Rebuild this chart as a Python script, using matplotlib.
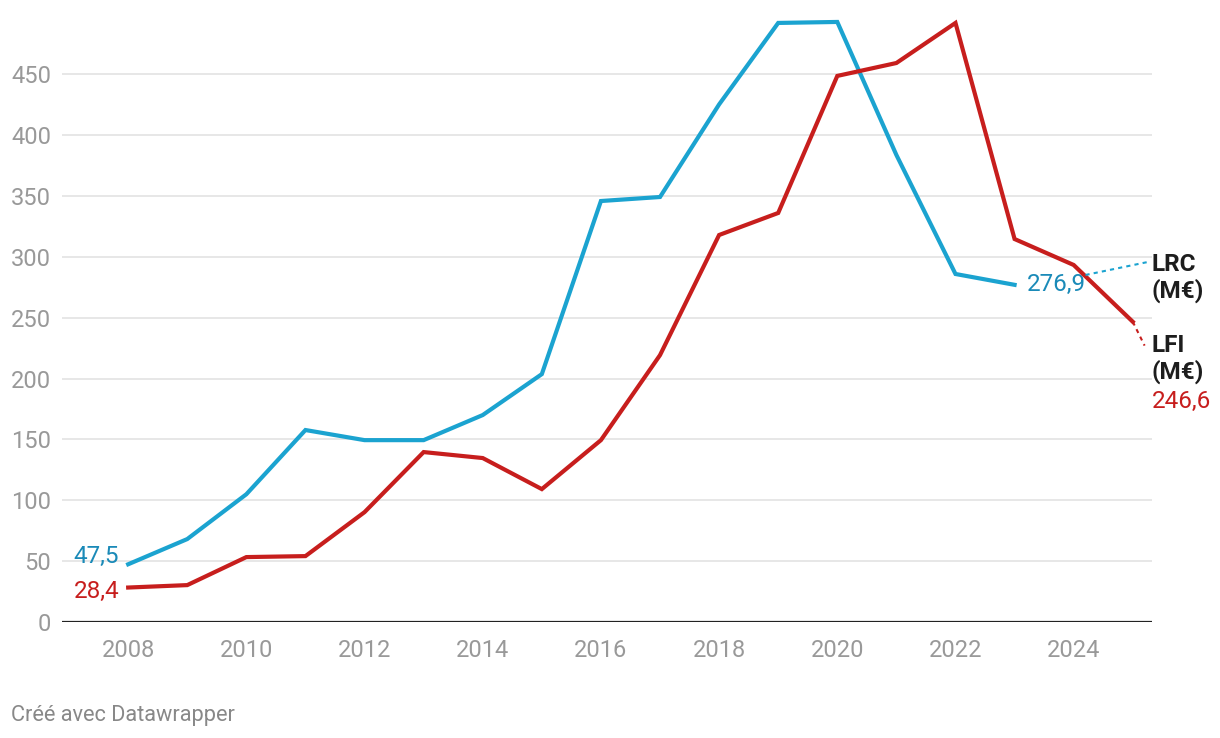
import matplotlib
matplotlib.use("Agg")
import matplotlib.pyplot as plt

years_lrc = list(range(2008, 2024))
lrc = [47.5, 68.2, 105, 157.7, 149.4, 149.4, 170, 203.6, 345.7, 349, 425, 491.9, 492.7, 383.5, 285.8, 276.9]
years_lfi = list(range(2008, 2026))
lfi = [28.4, 30.4, 53.4, 54.2, 90.3, 139.6, 134.7, 109.2, 149.4, 219.2, 317.8, 335.9, 448.4, 459, 491.9, 314.5, 293.2, 246.6]
yticks = [0, 50, 100, 150, 200, 250, 300, 350, 400, 450]
xticks = [2008, 2010, 2012, 2014, 2016, 2018, 2020, 2022, 2024]

BLUE = "#1ba3d0"
BLUE_T = "#1a8ab8"
RED = "#c71e1d"

plt.rcParams['font.family'] = ['Roboto', 'DejaVu Sans']
fig = plt.figure(figsize=(12.2, 7.38), dpi=100)
ax = fig.add_axes([0.051, 0.157, 0.893, 0.822])
ax.set_xlim(2006.884, 2025.32)
ax.set_ylim(0, 498)

for y in yticks[1:]:
    ax.axhline(y, color="#e0e0e0", lw=1.1, zorder=0)
ax.axhline(0, color="#222222", lw=1.6, zorder=3)

ax.plot(years_lrc, lrc, color=BLUE, lw=3, solid_joinstyle='miter', zorder=4)
ax.plot(years_lfi, lfi, color=RED, lw=3, solid_joinstyle='miter', zorder=4)

# connectors
ax.plot([2024.2, 2025.25], [285, 295.6], color=BLUE, lw=1.5, ls=(0, (2, 2)), zorder=4)
ax.plot([2025.0, 2025.2], [246.6, 227], color=RED, lw=1.5, ls=(0, (2, 2)), zorder=4)

ax.set_yticks(yticks)
ax.set_xticks(xticks)
ax.tick_params(length=0, labelsize=17, labelcolor="#999999")
ax.tick_params(axis='y', pad=8)
ax.tick_params(axis='x', pad=12)
for s in ax.spines.values():
    s.set_visible(False)
ax.set_yticklabels([str(v) for v in yticks], ha='right')

# value labels
ax.text(2007.85, 47.5 + 6, "47,5", color=BLUE_T, fontsize=17.5, ha='right', va='center')
ax.text(2007.85, 28.4 - 3, "28,4", color=RED, fontsize=17.5, ha='right', va='center')
ax.text(2023.2, 276.9, "276,9", color=BLUE_T, fontsize=17.5, ha='left', va='center')

ax.text(2025.32, 282.5, "LRC\n(M€)", color="#1d1d1d", fontsize=17.5, fontweight='bold',
        ha='left', va='center', linespacing=1.15)
ax.text(2025.32, 216, "LFI\n(M€)", color="#1d1d1d", fontsize=17.5, fontweight='bold',
        ha='left', va='center', linespacing=1.15)
ax.text(2025.32, 181, "246,6", color=RED, fontsize=17.5, ha='left', va='center')

fig.text(0.009, 0.031, "Créé avec Datawrapper", color="#888888", fontsize=15.7, ha='left', va='center')

fig.savefig("out.png", dpi=100)
